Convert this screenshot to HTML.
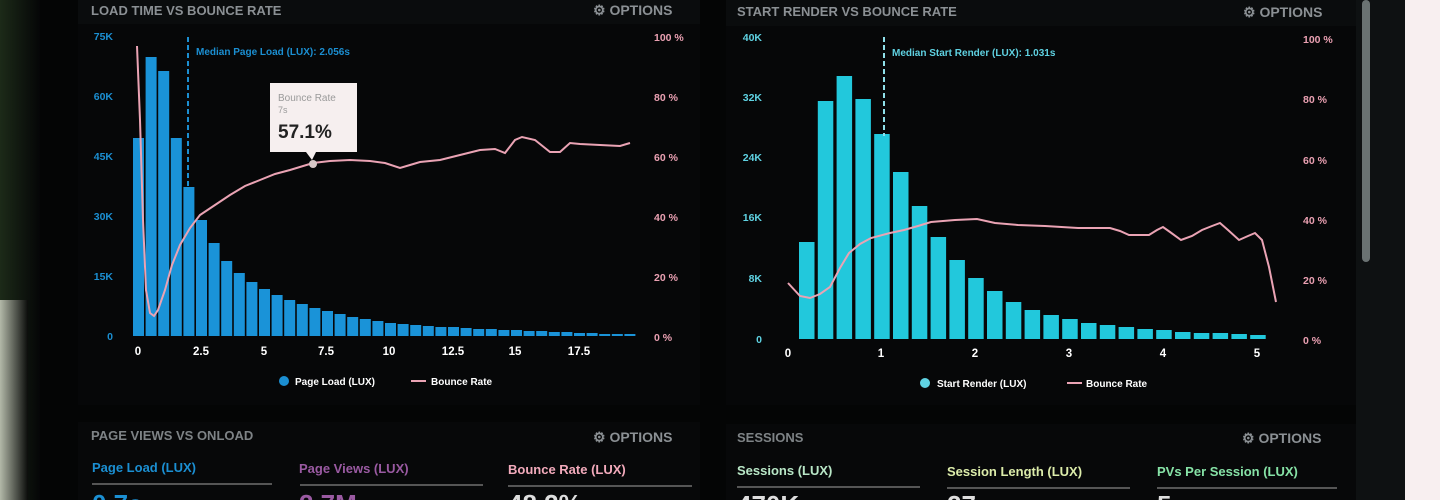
<!DOCTYPE html>
<html><head><meta charset="utf-8"><style>
html,body{margin:0;padding:0;width:1440px;height:500px;overflow:hidden;background:#050607}
svg{display:block}
text{font-family:"Liberation Sans",sans-serif;font-weight:bold}
</style></head><body>
<svg width="1440" height="500" viewBox="0 0 1440 500" xmlns="http://www.w3.org/2000/svg">
<defs>
<linearGradient id="lg" x1="0" x2="1" y1="0" y2="0"><stop offset="0" stop-color="#1c2a18"/><stop offset="1" stop-color="#050607"/></linearGradient>
<linearGradient id="wb" x1="0" x2="1"><stop offset="0" stop-color="#d8dccc"/><stop offset="1" stop-color="#0a0b0a"/></linearGradient>
<clipPath id="c"><rect x="0" y="0" width="1440" height="500"/></clipPath>
</defs>
<g clip-path="url(#c)">
<rect width="1440" height="500" fill="#040505"/>
<rect x="0" y="0" width="40" height="500" fill="url(#lg)"/>
<rect x="0" y="300" width="28" height="200" fill="url(#wb)" opacity="0.8"/>
<rect x="78" y="0" width="622" height="405" fill="#060708"/>
<rect x="78" y="0" width="622" height="24" fill="#0a0c0d"/>
<rect x="726" y="0" width="630" height="405" fill="#060708"/>
<rect x="726" y="0" width="630" height="26" fill="#0a0c0d"/>
<rect x="78" y="422" width="622" height="78" fill="#070809"/>
<rect x="726" y="424" width="630" height="76" fill="#070809"/>
<rect x="1356" y="0" width="50" height="500" fill="#0e1112"/>
<rect x="1362" y="0" width="8" height="262" rx="4" fill="#6a7272"/>
<rect x="1405" y="0" width="35" height="500" fill="#f8eff0"/>

<text x="91" y="15" font-size="13" fill="#8b9094">LOAD TIME VS BOUNCE RATE</text>
<text x="593" y="15" font-size="14" fill="#8b9094">⚙ OPTIONS</text>
<g font-size="10.5" fill="#1b8fd2" text-anchor="end">
<text x="113" y="40">75K</text><text x="113" y="100">60K</text><text x="113" y="160">45K</text>
<text x="113" y="220">30K</text><text x="113" y="280">15K</text><text x="113" y="340">0</text></g>
<g font-size="10.5" fill="#eaa0b2">
<text x="654" y="41">100 %</text><text x="654" y="101">80 %</text><text x="654" y="161">60 %</text>
<text x="654" y="221">40 %</text><text x="654" y="281">20 %</text><text x="654" y="341">0 %</text></g>
<g fill="#1a93d8">
<rect x="133" y="138" width="11" height="198"/><rect x="145.6" y="57" width="11" height="279"/>
<rect x="158.2" y="71" width="11" height="265"/><rect x="170.8" y="138" width="11" height="198"/>
<rect x="183.4" y="187" width="11" height="149"/><rect x="196" y="220" width="11" height="116"/>
<rect x="208.6" y="243" width="11" height="93"/><rect x="221.2" y="261" width="11" height="75"/>
<rect x="233.8" y="273" width="11" height="63"/><rect x="246.4" y="282" width="11" height="54"/>
<rect x="259" y="289" width="11" height="47"/><rect x="271.6" y="295" width="11" height="41"/>
<rect x="284.2" y="300" width="11" height="36"/><rect x="296.8" y="304" width="11" height="32"/>
<rect x="309.4" y="308" width="11" height="28"/><rect x="322" y="311" width="11" height="25"/>
<rect x="334.6" y="314" width="11" height="22"/><rect x="347.2" y="317" width="11" height="19"/>
<rect x="359.8" y="319" width="11" height="17"/><rect x="372.4" y="321" width="11" height="15"/>
<rect x="385" y="323" width="11" height="13"/><rect x="397.6" y="324" width="11" height="12"/>
<rect x="410.2" y="325" width="11" height="11"/><rect x="422.8" y="326" width="11" height="10"/>
<rect x="435.4" y="327" width="11" height="9"/><rect x="448" y="327" width="11" height="9"/>
<rect x="460.6" y="328" width="11" height="8"/><rect x="473.2" y="329" width="11" height="7"/>
<rect x="485.8" y="329" width="11" height="7"/><rect x="498.4" y="330" width="11" height="6"/>
<rect x="511" y="330" width="11" height="6"/><rect x="523.6" y="331" width="11" height="5"/>
<rect x="536.2" y="331" width="11" height="5"/><rect x="548.8" y="332" width="11" height="4"/>
<rect x="561.4" y="332" width="11" height="4"/><rect x="574" y="333" width="11" height="3"/>
<rect x="586.6" y="333" width="11" height="3"/><rect x="599.2" y="334" width="11" height="2"/>
<rect x="611.8" y="334" width="11" height="2"/><rect x="624.4" y="334" width="11" height="2"/>
</g>
<line x1="188" y1="37" x2="188" y2="186" stroke="#1b8fd2" stroke-width="2" stroke-dasharray="5,3"/>
<text x="196" y="55" font-size="10" fill="#1b8fd2">Median Page Load (LUX): 2.056s</text>
<polyline fill="none" stroke="#eaa3b4" stroke-width="2" points="137,46 140,120 143,220 146,290 150,313 154,316 158,310 165,290 172,265 180,245 190,228 200,215 215,205 230,195 245,186 260,180 275,174 290,170 313,163 330,161 350,160 370,161 385,163 400,168 410,165 420,162 440,160 460,155 480,150 495,149 505,153 515,140 522,137 535,140 550,152 560,152 570,143 580,144 600,145 620,146 630,143"/>
<rect x="270" y="83" width="87" height="69" fill="#f6efef"/>
<polygon points="306,152 316,152 312,160" fill="#f6efef"/>
<text x="278" y="101" font-size="10" fill="#9a9a9a" style="font-weight:normal">Bounce Rate</text>
<text x="278" y="113" font-size="9" fill="#9a9a9a" style="font-weight:normal">7s</text>
<text x="278" y="138" font-size="19" fill="#222">57.1%</text>
<circle cx="313" cy="164" r="4" fill="#d8c8c8"/>
<g font-size="11.5" fill="#ffffff" text-anchor="middle">
<text x="138" y="355">0</text><text x="201" y="355">2.5</text><text x="264" y="355">5</text><text x="326" y="355">7.5</text>
<text x="389" y="355">10</text><text x="453" y="355">12.5</text><text x="515" y="355">15</text><text x="579" y="355">17.5</text></g>
<circle cx="284" cy="381" r="5" fill="#1b8fd2"/>
<text x="295" y="385" font-size="10" fill="#ffffff">Page Load (LUX)</text>
<line x1="411" y1="381" x2="426" y2="381" stroke="#eaa3b4" stroke-width="2"/>
<text x="431" y="385" font-size="10" fill="#ffffff">Bounce Rate</text>

<text x="91" y="440" font-size="13" fill="#7e8386">PAGE VIEWS VS ONLOAD</text>
<text x="593" y="442" font-size="14" fill="#8b9094">⚙ OPTIONS</text>
<text x="92" y="472" font-size="13" fill="#1b8fd2">Page Load (LUX)</text>
<text x="299" y="473" font-size="13" fill="#9a5aa2">Page Views (LUX)</text>
<text x="508" y="474" font-size="13" fill="#f2aabb">Bounce Rate (LUX)</text>
<rect x="92" y="483" width="180" height="2" fill="#555"/>
<rect x="300" y="484" width="183" height="2" fill="#555"/>
<rect x="508" y="485" width="184" height="2" fill="#555"/>
<text x="92" y="513" font-size="26" fill="#1b8fd2">0.7s</text>
<text x="299" y="513" font-size="26" fill="#9a5aa2">2.7M</text>
<text x="508" y="513" font-size="26" fill="#ddd">48.2%</text>

<text x="737" y="16" font-size="13" fill="#8b9094">START RENDER VS BOUNCE RATE</text>
<text x="1243" y="17" font-size="14" fill="#8b9094">⚙ OPTIONS</text>
<g font-size="10.5" fill="#5fd2e2" text-anchor="end">
<text x="762" y="41">40K</text><text x="762" y="101">32K</text><text x="762" y="161">24K</text>
<text x="762" y="221">16K</text><text x="762" y="282">8K</text><text x="762" y="343">0</text></g>
<g font-size="10.5" fill="#eaa0b2">
<text x="1303" y="43">100 %</text><text x="1303" y="103">80 %</text><text x="1303" y="164">60 %</text>
<text x="1303" y="224">40 %</text><text x="1303" y="284">20 %</text><text x="1303" y="344">0 %</text></g>
<g fill="#22c8dc">
<rect x="799" y="242" width="15.5" height="97"/><rect x="817.8" y="101" width="15.5" height="238"/>
<rect x="836.6" y="76" width="15.5" height="263"/><rect x="855.4" y="99" width="15.5" height="240"/>
<rect x="874.2" y="134" width="15.5" height="205"/><rect x="893" y="172" width="15.5" height="167"/>
<rect x="911.8" y="206" width="15.5" height="133"/><rect x="930.6" y="237" width="15.5" height="102"/>
<rect x="949.4" y="260" width="15.5" height="79"/><rect x="968.2" y="278" width="15.5" height="61"/>
<rect x="987" y="291" width="15.5" height="48"/><rect x="1005.8" y="302" width="15.5" height="37"/>
<rect x="1024.6" y="310" width="15.5" height="29"/><rect x="1043.4" y="315" width="15.5" height="24"/>
<rect x="1062.2" y="319" width="15.5" height="20"/><rect x="1081" y="323" width="15.5" height="16"/>
<rect x="1099.8" y="325" width="15.5" height="14"/><rect x="1118.6" y="327" width="15.5" height="12"/>
<rect x="1137.4" y="329" width="15.5" height="10"/><rect x="1156.2" y="330" width="15.5" height="9"/>
<rect x="1175" y="332" width="15.5" height="7"/><rect x="1193.8" y="333" width="15.5" height="6"/>
<rect x="1212.6" y="333" width="15.5" height="6"/><rect x="1231.4" y="334" width="15.5" height="5"/>
<rect x="1250.2" y="335" width="15.5" height="4"/>
</g>
<line x1="884" y1="37" x2="884" y2="136" stroke="#8fe0ea" stroke-width="2" stroke-dasharray="5,3"/>
<text x="892" y="56" font-size="10" fill="#5fd2e2">Median Start Render (LUX): 1.031s</text>
<polyline fill="none" stroke="#eaa3b4" stroke-width="2" points="788,283 800,296 810,298 820,294 830,287 840,268 849,253 860,244 871,238 890,233 904,230 918,226 931,222 955,220 977,219 995,223 1018,225 1045,226 1078,228 1110,228 1120,231 1129,235 1149,235 1157,230 1163,227 1170,232 1181,240 1192,236 1202,230 1212,226 1220,223 1228,230 1239,240 1248,236 1255,233 1262,240 1269,267 1276,302"/>
<g font-size="11.5" fill="#ffffff" text-anchor="middle">
<text x="788" y="357">0</text><text x="881" y="357">1</text><text x="975" y="357">2</text>
<text x="1069" y="357">3</text><text x="1163" y="357">4</text><text x="1257" y="357">5</text></g>
<circle cx="925" cy="383" r="5" fill="#5fd2e2"/>
<text x="937" y="387" font-size="10" fill="#ffffff">Start Render (LUX)</text>
<line x1="1067" y1="383" x2="1082" y2="383" stroke="#eaa3b4" stroke-width="2"/>
<text x="1086" y="387" font-size="10" fill="#ffffff">Bounce Rate</text>

<text x="737" y="442" font-size="13" fill="#7e8386">SESSIONS</text>
<text x="1242" y="443" font-size="14" fill="#8b9094">⚙ OPTIONS</text>
<text x="737" y="475" font-size="13" fill="#b8e6c6">Sessions (LUX)</text>
<text x="947" y="476" font-size="13" fill="#dcecaa">Session Length (LUX)</text>
<text x="1157" y="476" font-size="13" fill="#86e2a6">PVs Per Session (LUX)</text>
<rect x="737" y="486" width="183" height="2" fill="#555"/>
<rect x="947" y="487" width="183" height="2" fill="#555"/>
<rect x="1157" y="487" width="180" height="2" fill="#555"/>
<text x="737" y="514" font-size="26" fill="#ddd">470K</text>
<text x="947" y="514" font-size="26" fill="#ddd">27m</text>
<text x="1157" y="514" font-size="26" fill="#ddd">5</text>
</g>
</svg>
</body></html>
